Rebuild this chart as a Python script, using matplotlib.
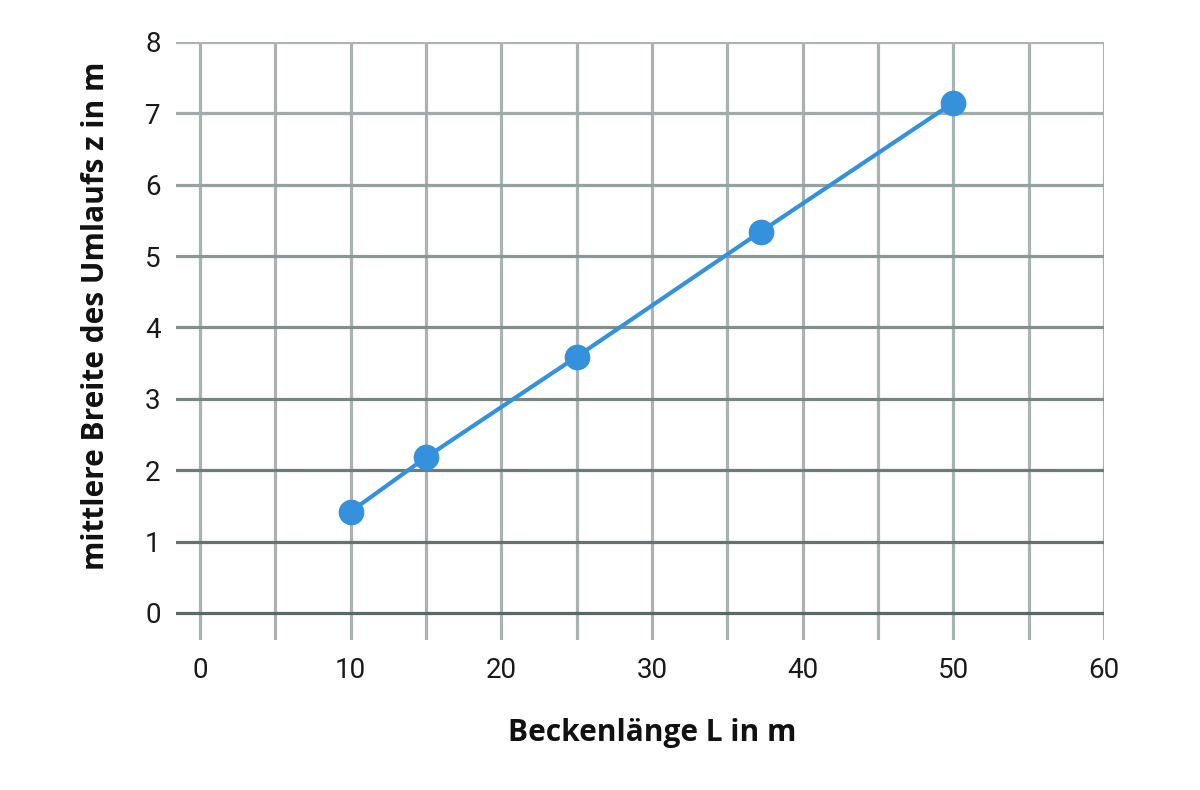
import matplotlib
matplotlib.use("Agg")
import matplotlib.pyplot as plt
import numpy as np
from matplotlib.colors import LinearSegmentedColormap

# Data
beckenlaenge = [10, 15, 25, 37.2, 50]
breite = [1.42, 2.18, 3.59, 5.34, 7.15]
x_ticks = [0, 10, 20, 30, 40, 50, 60]
y_ticks = [0, 1, 2, 3, 4, 5, 6, 7, 8]
x_label = "Beckenlänge L in m"
y_label = "mittlere Breite des Umlaufs z in m"

W, H = 1200, 790
fig = plt.figure(figsize=(W / 100, H / 100), dpi=100)
# axes spans pixel x 176..1104, y 42..640
ax = fig.add_axes([176 / W, 1 - 640 / H, (1104 - 176) / W, (640 - 42) / H])
ax.set_xlim(-1.6, 60)
ax.set_ylim(-0.38, 8)
for s in ax.spines.values():
    s.set_visible(False)

# grid
v_col = "#a9b4b2"
for xv in np.arange(0, 61, 5):
    ax.axvline(xv, color=v_col, lw=2.3, zorder=1)
cmap = LinearSegmentedColormap.from_list("g", ["#5a6866", "#aab5b3"])
for yv in y_ticks:
    ax.axhline(yv, color=cmap(yv / 8), lw=2.3, zorder=2)

ax.plot(beckenlaenge, breite, color="#3591dc", lw=3.0, marker="o",
        markersize=18.5, markeredgewidth=0, zorder=5, clip_on=False)

tick_font = dict(family="Roboto", weight="normal", size=20)
ax.set_xticks(x_ticks)
ax.set_xticklabels([str(v) for v in x_ticks], **tick_font, color="#1a1a1a")
ax.set_yticks(y_ticks)
ax.set_yticklabels([str(v) for v in y_ticks], **tick_font, color="#1a1a1a")
ax.tick_params(axis="x", length=0, pad=12)
ax.tick_params(axis="y", length=0, pad=11)

fig.text(652 / W, 1 - 733 / H, x_label, ha="center", va="center",
         family="Open Sans", weight="bold", size=21.5, color="#111111")
fig.text(96 / W, 1 - 316 / H, y_label, ha="center", va="center",
         rotation=90, family="Open Sans", weight="bold", size=21.5, color="#111111")

fig.savefig("out.png", dpi=100, facecolor="white")
